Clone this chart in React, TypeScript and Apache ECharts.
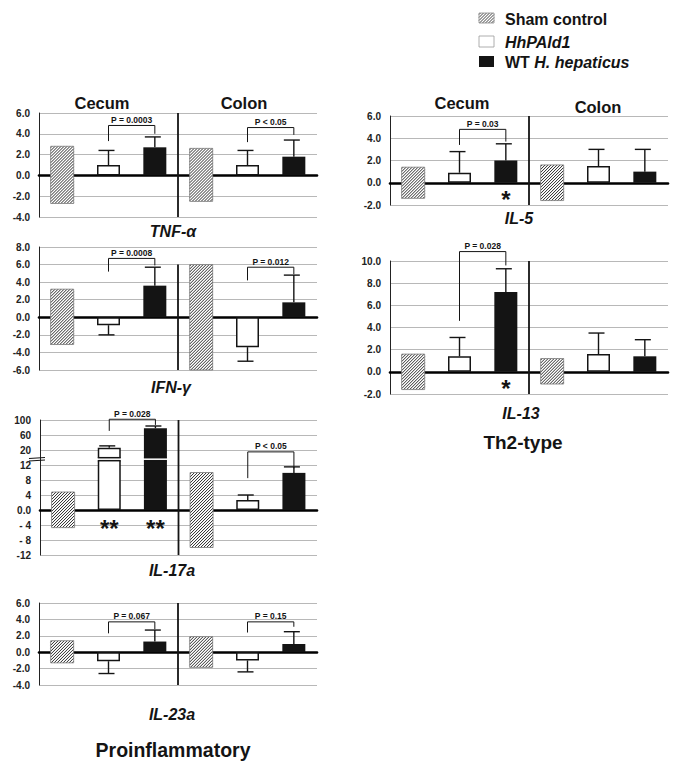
import React, { useEffect, useRef } from "react";
import * as echarts from "echarts";

const FONT = '"Liberation Sans", Arial, Helvetica, sans-serif';

// ---------- categories / labels ----------
const categories = [
  "Cecum · Sham control",
  "Cecum · HhPAld1",
  "Cecum · WT H. hepaticus",
  "Colon · Sham control",
  "Colon · HhPAld1",
  "Colon · WT H. hepaticus",
];
const sections = ["Cecum", "Colon"];
const legendLabels = ["Sham control", "HhPAld1", "WT H. hepaticus"];

// ---------- TNF-α  (each array: [Cecum, Colon]) ----------
const tnfShamHigh = [2.8, 2.6];
const tnfShamLow = [-2.7, -2.5];
const tnfHh = [1.0, 1.0];
const tnfHhErr = [2.4, 2.4];
const tnfWt = [2.7, 1.8];
const tnfWtErr = [3.7, 3.4];
const tnfPLabels = ["P = 0.0003", "P < 0.05"];
const tnfPTop = [4.8, 4.6];
const tnfPLegHh = [3.3, 3.2];
const tnfPLegWt = [4.0, 3.9];
const tnfAxis = [-4, 6, 2];

// ---------- IFN-γ ----------
const ifnShamHigh = [3.2, 6.0];
const ifnShamLow = [-3.1, -6.0];
const ifnHh = [-0.9, -3.4];
const ifnHhErr = [-2.0, -5.0];
const ifnWt = [3.6, 1.7];
const ifnWtErr = [5.7, 4.8];
const ifnPLabels = ["P = 0.0008", "P = 0.012"];
const ifnPTop = [6.7, 5.7];
const ifnPLegHh = [5.2, 4.2];
const ifnPLegWt = [5.9, 4.9];
const ifnAxis = [-6, 8, 2];

// ---------- IL-17a (real values; axis is broken above 12) ----------
const il17ShamHigh = [4.8, 10.0];
const il17ShamLow = [-4.7, -10.0];
const il17Hh = [26, 2.7];
const il17HhErr = [31, 4.0];
const il17Wt = [78, 9.9];
const il17WtErr = [84, 11.5];
const il17PLabels = ["P = 0.028", "P < 0.05"];
const il17PTop = [102, 19];
const il17PLegHh = [71, 8.5];
const il17PLegWt = [87, 11.1];
const il17Axis = [-12, 24, 4];
const il17TickLabels = ["-12", "- 8", "- 4", "0.0", "4", "8", "12", "20", "60", "100"];
const il17StarTexts = ["**", "**"];
const il17StarCats = [1, 2];
const il17StarY = [-3.4, -3.4];

// ---------- IL-23a ----------
const il23ShamHigh = [1.4, 1.9];
const il23ShamLow = [-1.3, -1.85];
const il23Hh = [-1.1, -1.0];
const il23HhErr = [-2.6, -2.4];
const il23Wt = [1.3, 1.0];
const il23WtErr = [2.7, 2.5];
const il23PLabels = ["P = 0.067", "P = 0.15"];
const il23PTop = [3.7, 3.7];
const il23PLegHh = [2.3, 2.4];
const il23PLegWt = [2.8, 3.1];
const il23Axis = [-4, 6, 2];

// ---------- IL-5 ----------
const il5ShamHigh = [1.4, 1.6];
const il5ShamLow = [-1.4, -1.6];
const il5Hh = [0.9, 1.5];
const il5HhErr = [2.8, 3.0];
const il5Wt = [2.0, 1.0];
const il5WtErr = [3.5, 3.0];
const il5PLabels = ["P = 0.03", null];
const il5PTop = [4.8, 0];
const il5PLegHh = [3.4, 0];
const il5PLegWt = [3.7, 0];
const il5Axis = [-2, 6, 2];
const il5StarTexts = ["*"];
const il5StarCats = [2];
const il5StarY = [-1.0];

// ---------- IL-13 ----------
const il13ShamHigh = [1.6, 1.2];
const il13ShamLow = [-1.6, -1.1];
const il13Hh = [1.4, 1.6];
const il13HhErr = [3.1, 3.5];
const il13Wt = [7.2, 1.4];
const il13WtErr = [9.3, 2.9];
const il13PLabels = ["P = 0.028", null];
const il13PTop = [10.85, 0];
const il13PLegHh = [4.6, 0];
const il13PLegWt = [9.6, 0];
const il13Axis = [-2, 10, 2];
const il13StarTexts = ["*"];
const il13StarCats = [2];
const il13StarY = [-1.0];

// IL-17a broken-axis mapping (real value -> axis position)
const il17Map = (v: number) =>
  v <= 12 ? v : v <= 20 ? 12 + (v - 12) / 2 : 16 + (v - 20) / 10;

const BAR_W = 23;
const INK = "#141414";

function hatch(x0: number, y0: number, x1: number, y1: number, step: number, stroke: string, lw: number) {
  const out: any[] = [];
  for (let c = x0 + y0 + step * 0.5; c < x1 + y1; c += step) {
    const xa = Math.max(x0, c - y1);
    const xb = Math.min(x1, c - y0);
    if (xb - xa > 0.3) {
      out.push({
        type: "line",
        shape: { x1: xa, y1: c - xa, x2: xb, y2: c - xb },
        style: { stroke, lineWidth: lw },
        silent: true,
      });
    }
  }
  return out;
}

type Panel = {
  title: string;
  tx: number;
  ty: number;
  grid: { left: number; top: number; width: number; height: number };
  axis: number[];
  fmt?: (v: number) => string;
  tf?: (v: number) => number;
  shamHigh: number[];
  shamLow: number[];
  hh: number[];
  hhErr: number[];
  wt: number[];
  wtErr: number[];
  pLabels: (string | null)[];
  pTop: number[];
  pLegHh: number[];
  pLegWt: number[];
  dividerTop: number;
  starTexts?: string[];
  starCats?: number[];
  starY?: number[];
  broken?: boolean;
};

const panels: Panel[] = [
  {
    title: "TNF-α", tx: 173, ty: 231,
    grid: { left: 39, top: 113, width: 278, height: 104 },
    axis: tnfAxis, shamHigh: tnfShamHigh, shamLow: tnfShamLow,
    hh: tnfHh, hhErr: tnfHhErr, wt: tnfWt, wtErr: tnfWtErr,
    pLabels: tnfPLabels, pTop: tnfPTop, pLegHh: tnfPLegHh, pLegWt: tnfPLegWt,
    dividerTop: 6,
  },
  {
    title: "IFN-γ", tx: 171, ty: 387,
    grid: { left: 39, top: 247, width: 278, height: 123 },
    axis: ifnAxis, shamHigh: ifnShamHigh, shamLow: ifnShamLow,
    hh: ifnHh, hhErr: ifnHhErr, wt: ifnWt, wtErr: ifnWtErr,
    pLabels: ifnPLabels, pTop: ifnPTop, pLegHh: ifnPLegHh, pLegWt: ifnPLegWt,
    dividerTop: 6,
  },
  {
    title: "IL-17a", tx: 172, ty: 570,
    grid: { left: 40, top: 420, width: 277, height: 135 },
    axis: il17Axis,
    fmt: (v: number) => il17TickLabels[Math.round((v - il17Axis[0]) / il17Axis[2])] ?? "",
    tf: il17Map,
    shamHigh: il17ShamHigh, shamLow: il17ShamLow,
    hh: il17Hh, hhErr: il17HhErr, wt: il17Wt, wtErr: il17WtErr,
    pLabels: il17PLabels, pTop: il17PTop, pLegHh: il17PLegHh, pLegWt: il17PLegWt,
    dividerTop: 24,
    starTexts: il17StarTexts, starCats: il17StarCats, starY: il17StarY,
    broken: true,
  },
  {
    title: "IL-23a", tx: 172, ty: 714,
    grid: { left: 39, top: 603, width: 278, height: 82 },
    axis: il23Axis, shamHigh: il23ShamHigh, shamLow: il23ShamLow,
    hh: il23Hh, hhErr: il23HhErr, wt: il23Wt, wtErr: il23WtErr,
    pLabels: il23PLabels, pTop: il23PTop, pLegHh: il23PLegHh, pLegWt: il23PLegWt,
    dividerTop: 6,
  },
  {
    title: "IL-5", tx: 519, ty: 218,
    grid: { left: 390, top: 116, width: 278, height: 89 },
    axis: il5Axis, shamHigh: il5ShamHigh, shamLow: il5ShamLow,
    hh: il5Hh, hhErr: il5HhErr, wt: il5Wt, wtErr: il5WtErr,
    pLabels: il5PLabels, pTop: il5PTop, pLegHh: il5PLegHh, pLegWt: il5PLegWt,
    dividerTop: 6,
    starTexts: il5StarTexts, starCats: il5StarCats, starY: il5StarY,
  },
  {
    title: "IL-13", tx: 521, ty: 413,
    grid: { left: 390, top: 261, width: 278, height: 133 },
    axis: il13Axis, shamHigh: il13ShamHigh, shamLow: il13ShamLow,
    hh: il13Hh, hhErr: il13HhErr, wt: il13Wt, wtErr: il13WtErr,
    pLabels: il13PLabels, pTop: il13PTop, pLegHh: il13PLegHh, pLegWt: il13PLegWt,
    dividerTop: 10,
    starTexts: il13StarTexts, starCats: il13StarCats, starY: il13StarY,
  },
];

function buildOption() {
  const grid: any[] = [];
  const xAxis: any[] = [];
  const yAxis: any[] = [];
  const series: any[] = [];

  panels.forEach((p, i) => {
    const tf = p.tf || ((v: number) => v);
    grid.push({ ...p.grid });
    xAxis.push({
      type: "category",
      gridIndex: i,
      data: categories,
      z: 1,
      axisLine: { show: true, onZero: true, lineStyle: { color: "#000", width: 2.6 } },
      axisTick: { show: false },
      axisLabel: { show: false },
      splitLine: { show: false },
    });
    yAxis.push({
      type: "value",
      gridIndex: i,
      min: p.axis[0],
      max: p.axis[1],
      interval: p.axis[2],
      z: 0,
      axisLine: { show: true, lineStyle: { color: "#222", width: 1 } },
      axisTick: { show: false },
      splitLine: { show: true, lineStyle: { color: "#b8b8b8", width: 1 } },
      axisLabel: {
        fontFamily: FONT,
        fontWeight: "bold",
        fontSize: 10,
        color: "#222",
        margin: 9,
        formatter: p.fmt || ((v: number) => v.toFixed(1)),
      },
    });

    // Sham control (hatched range bars)
    series.push({
      type: "custom",
      name: legendLabels[0],
      xAxisIndex: i,
      yAxisIndex: i,
      z: 3,
      data: [0, 1].map((s) => [s * 3, tf(p.shamHigh[s]), tf(p.shamLow[s])]),
      renderItem: (params: any, api: any) => {
        const cat = api.value(0);
        const top = api.coord([cat, api.value(1)]);
        const bot = api.coord([cat, api.value(2)]);
        const x0 = top[0] - BAR_W / 2;
        const x1 = top[0] + BAR_W / 2;
        const y0 = top[1];
        const y1 = bot[1];
        const children: any[] = [
          { type: "rect", shape: { x: x0, y: y0, width: BAR_W, height: y1 - y0 }, style: { fill: "#fff" } },
          ...hatch(x0, y0, x1, y1, 3, "#2a2a2a", 1),
          {
            type: "rect",
            shape: { x: x0, y: y0, width: BAR_W, height: y1 - y0 },
            style: { fill: "none", stroke: "#7a7a7a", lineWidth: 0.8 },
          },
        ];
        return { type: "group", children };
      },
    });

    // HhPAld1 bars
    series.push({
      type: "bar",
      name: legendLabels[1],
      xAxisIndex: i,
      yAxisIndex: i,
      barWidth: BAR_W,
      barGap: "-100%",
      z: 2,
      data: categories.map((_, k) => (k === 1 ? tf(p.hh[0]) : k === 4 ? tf(p.hh[1]) : "-")),
      itemStyle: { color: "#fff", borderColor: INK, borderWidth: 1.5 },
    });
    // WT H. hepaticus bars
    series.push({
      type: "bar",
      name: legendLabels[2],
      xAxisIndex: i,
      yAxisIndex: i,
      barWidth: BAR_W,
      barGap: "-100%",
      z: 2,
      data: categories.map((_, k) => (k === 2 ? tf(p.wt[0]) : k === 5 ? tf(p.wt[1]) : "-")),
      itemStyle: { color: INK },
    });

    // Broken-axis gap on the tall bars (IL-17a)
    if (p.broken) {
      const brokenCats: number[] = [];
      [1, 2, 4, 5].forEach((k) => {
        const v = k === 1 ? p.hh[0] : k === 2 ? p.wt[0] : k === 4 ? p.hh[1] : p.wt[1];
        if (v > 20) brokenCats.push(k);
      });
      series.push({
        type: "custom",
        xAxisIndex: i,
        yAxisIndex: i,
        z: 4,
        data: brokenCats.map((k) => [k, 13.15, 13.95]),
        renderItem: (params: any, api: any) => {
          const cat = api.value(0);
          const lo = api.coord([cat, api.value(1)]);
          const hi = api.coord([cat, api.value(2)]);
          const x0 = lo[0] - BAR_W / 2;
          return {
            type: "group",
            children: [
              { type: "rect", shape: { x: x0 - 2, y: hi[1], width: BAR_W + 4, height: lo[1] - hi[1] }, style: { fill: "#fff" } },
              { type: "line", shape: { x1: x0, y1: hi[1], x2: x0 + BAR_W, y2: hi[1] }, style: { stroke: INK, lineWidth: 1.5 } },
              { type: "line", shape: { x1: x0, y1: lo[1], x2: x0 + BAR_W, y2: lo[1] }, style: { stroke: INK, lineWidth: 1.5 } },
            ],
          };
        },
      });
      // axis break mark
      series.push({
        type: "custom",
        xAxisIndex: i,
        yAxisIndex: i,
        z: 5,
        data: [[0, 13.6]],
        renderItem: (params: any, api: any) => {
          const c = api.coord([0, api.value(1)]);
          const ax = c[0] - api.size([1, 0])[0] / 2;
          return {
            type: "group",
            children: [
              { type: "line", shape: { x1: ax - 11, y1: c[1] - 0.5, x2: ax + 5, y2: c[1] - 1.5 }, style: { stroke: INK, lineWidth: 1.2 } },
              { type: "line", shape: { x1: ax - 11, y1: c[1] + 2, x2: ax + 5, y2: c[1] + 1 }, style: { stroke: INK, lineWidth: 1.2 } },
            ],
          };
        },
      });
    }

    // Error bars
    series.push({
      type: "custom",
      xAxisIndex: i,
      yAxisIndex: i,
      z: 5,
      data: [
        [1, tf(p.hh[0]), tf(p.hhErr[0])],
        [4, tf(p.hh[1]), tf(p.hhErr[1])],
        [2, tf(p.wt[0]), tf(p.wtErr[0])],
        [5, tf(p.wt[1]), tf(p.wtErr[1])],
      ],
      renderItem: (params: any, api: any) => {
        const cat = api.value(0);
        const a = api.coord([cat, api.value(1)]);
        const b = api.coord([cat, api.value(2)]);
        return {
          type: "group",
          children: [
            { type: "line", shape: { x1: a[0], y1: a[1], x2: b[0], y2: b[1] }, style: { stroke: INK, lineWidth: 1.4 } },
            { type: "line", shape: { x1: b[0] - 10, y1: b[1], x2: b[0] + 6, y2: b[1] }, style: { stroke: INK, lineWidth: 1.4 } },
          ],
        };
      },
    });

    // P-value brackets
    const bLabels: string[] = [];
    const bData: number[][] = [];
    [0, 1].forEach((s) => {
      const lab = p.pLabels[s];
      if (lab) {
        bLabels.push(lab);
        bData.push([s * 3 + 1, s * 3 + 2, tf(p.pTop[s]), tf(p.pLegHh[s]), tf(p.pLegWt[s])]);
      }
    });
    series.push({
      type: "custom",
      xAxisIndex: i,
      yAxisIndex: i,
      z: 5,
      data: bData,
      renderItem: (params: any, api: any) => {
        const c1 = api.value(0);
        const c2 = api.value(1);
        const top = api.value(2);
        const a = api.coord([c1, api.value(3)]);
        const b = api.coord([c1, top]);
        const c = api.coord([c2, top]);
        const d = api.coord([c2, api.value(4)]);
        return {
          type: "group",
          children: [
            {
              type: "polyline",
              shape: { points: [a, b, c, d] },
              style: { stroke: INK, lineWidth: 1, fill: "none" },
            },
            {
              type: "text",
              style: {
                text: bLabels[params.dataIndex],
                x: (b[0] + c[0]) / 2,
                y: b[1] - 1,
                align: "center",
                verticalAlign: "bottom",
                font: `bold 8.5px ${FONT}`,
                fill: INK,
              },
            },
          ],
        };
      },
    });

    // Cecum | Colon divider
    series.push({
      type: "custom",
      xAxisIndex: i,
      yAxisIndex: i,
      z: 4,
      data: [[2, p.dividerTop, p.axis[0]]],
      renderItem: (params: any, api: any) => {
        const a = api.coord([2, api.value(1)]);
        const b = api.coord([3, api.value(2)]);
        const x = (a[0] + b[0]) / 2;
        return {
          type: "line",
          shape: { x1: x, y1: a[1], x2: x, y2: b[1] },
          style: { stroke: INK, lineWidth: 1.8 },
        };
      },
    });

    // significance stars
    if (p.starTexts) {
      const texts = p.starTexts;
      series.push({
        type: "custom",
        xAxisIndex: i,
        yAxisIndex: i,
        z: 5,
        data: texts.map((_, k) => [p.starCats![k], tf(p.starY![k])]),
        renderItem: (params: any, api: any) => {
          const c = api.coord([api.value(0), api.value(1)]);
          return {
            type: "text",
            style: {
              text: texts[params.dataIndex],
              x: c[0],
              y: c[1] + 5.5,
              align: "center",
              verticalAlign: "middle",
              font: `bold 24px ${FONT}`,
              fill: INK,
            },
          };
        },
      });
    }
  });

  // ---------- free texts & legend ----------
  const graphic: any[] = [];
  const txt = (text: string, x: number, y: number, size: number, italic = false, align = "center") => ({
    type: "text",
    x,
    y,
    z: 100,
    style: {
      text,
      align,
      verticalAlign: "middle",
      font: `${italic ? "italic " : ""}bold ${size}px ${FONT}`,
      fill: INK,
    },
  });
  graphic.push(txt(sections[0], 102, 103, 16.5));
  graphic.push(txt(sections[1], 244, 103, 16.5));
  graphic.push(txt(sections[0], 462, 103, 16.5));
  graphic.push(txt(sections[1], 598, 107, 16.5));
  panels.forEach((p) => graphic.push(txt(p.title, p.tx, p.ty, 16, true)));
  graphic.push(txt("Th2-type", 523, 442, 19));
  graphic.push(txt("Proinflammatory", 173, 750, 19.5));

  // legend
  const lx = 479;
  graphic.push({
    type: "group",
    z: 100,
    children: [
      { type: "rect", shape: { x: lx, y: 13, width: 15, height: 10 }, style: { fill: "#fff" } },
      ...hatch(lx, 13, lx + 15, 23, 3, "#2a2a2a", 0.9),
      { type: "rect", shape: { x: lx, y: 13, width: 15, height: 10 }, style: { fill: "none", stroke: "#8a8a8a", lineWidth: 0.8 } },
      { type: "rect", shape: { x: lx, y: 36, width: 15, height: 11 }, style: { fill: "#fff", stroke: "#999", lineWidth: 0.8 } },
      { type: "rect", shape: { x: lx, y: 56, width: 15, height: 11 }, style: { fill: INK } },
    ],
  });
  graphic.push(txt(legendLabels[0], 505, 19.5, 16, false, "left"));
  graphic.push(txt(legendLabels[1], 505, 42, 16, true, "left"));
  const wtParts = legendLabels[2].split(" ");
  graphic.push({
    type: "text",
    x: 505,
    y: 62,
    z: 100,
    style: {
      text: `{a|${wtParts[0]} }{b|${wtParts.slice(1).join(" ")}}`,
      align: "left",
      verticalAlign: "middle",
      fill: INK,
      rich: {
        a: { fontFamily: FONT, fontWeight: "bold", fontSize: 16, fill: INK },
        b: { fontFamily: FONT, fontWeight: "bold", fontStyle: "italic", fontSize: 16, fill: INK },
      },
    },
  });

  return {
    animation: false,
    backgroundColor: "#fff",
    grid,
    xAxis,
    yAxis,
    series,
    graphic,
  };
}

export default function App() {
  const ref = useRef<HTMLDivElement>(null);
  useEffect(() => {
    if (!ref.current) return;
    const chart = echarts.init(ref.current, undefined, { renderer: "svg" });
    chart.setOption(buildOption() as any);
    return () => chart.dispose();
  }, []);
  return (
    <div
      ref={ref}
      style={{ position: "absolute", left: 0, top: 0, width: 684, height: 770, background: "#fff" }}
    />
  );
}
